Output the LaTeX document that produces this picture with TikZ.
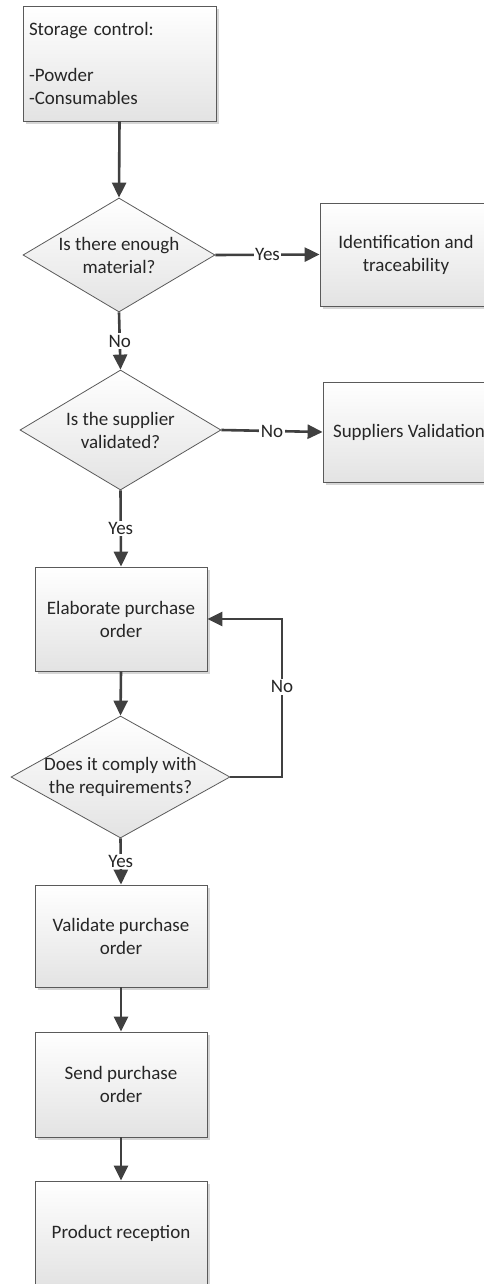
\documentclass[tikz,border=0pt]{standalone}
\usepackage{fontspec}
\setmainfont{Carlito}
\usetikzlibrary{arrows.meta, shapes.geometric, shadows}

\definecolor{linegray}{HTML}{5A5A5A}
\definecolor{arrowgray}{HTML}{404040}
\definecolor{textgray}{HTML}{262626}

\begin{document}
\begin{tikzpicture}[
    x=1pt, y=-1pt,
    >={Triangle[length=15pt, width=14pt]},
    font=\fontsize{19}{23}\selectfont,
    process/.style={draw=linegray, line width=0.8pt, top color=white, bottom color=black!11,
        drop shadow={shadow xshift=3pt, shadow yshift=-3pt, fill=black!16, opacity=1},
        minimum width=172pt, text=textgray, align=center, inner sep=0pt},
    decision/.style={diamond, draw=linegray, line width=0.8pt, top color=white,
        bottom color=black!11, inner sep=0pt},
    qtext/.style={text=textgray, align=center, inner sep=0pt},
    flow/.style={->, line width=2.6pt, draw=arrowgray},
    answer/.style={fill=white, text=textgray, inner sep=1.5pt}
]

% Page frame (pixel grid, y grows downwards)
\useasboundingbox (0,0) rectangle (484,1284);

% Storage box
\node[process, minimum width=193pt, minimum height=115pt, text width=181pt,
    align=left] (storage) at (119.5,63.5) {Storage control:\\[23pt]-Powder\\-Consumables};

% First question
\node[decision, minimum width=192pt, minimum height=114pt] (enough) at (119,255) {};
\node[qtext] (enoughtxt) at (enough) {Is there enough\\material?};
\node[process, minimum height=103pt] (ident) at (406,254.5) {Identification and\\traceability};

% Second question
\node[decision, minimum width=201pt, minimum height=120pt] (supplier) at (120.5,430) {};
\node[qtext] (suppliertxt) at (supplier) {Is the supplier\\validated?};
\node[process, minimum height=100pt] (supval) at (409,432) {Suppliers Validation};

% Purchase order loop
\node[process, minimum height=104pt] (elab) at (121,619) {Elaborate purchase\\order};
\node[decision, minimum width=219pt, minimum height=122pt] (comply) at (120.5,777) {};
\node[qtext] (complytxt) at (comply) {Does it comply with\\the requirements?};
\coordinate (loop) at (282,777);

% Last steps
\node[process, minimum height=102pt] (validate) at (121,936) {Validate purchase\\order};
\node[process, minimum height=105pt] (send) at (121,1084.5) {Send purchase\\order};
\node[process, minimum height=104pt] (product) at (121,1233) {Product reception};

% Connectors
\draw[flow] (storage.south) -- (enough.north);
\draw[flow] (enough.east) -- node[answer] {Yes} (ident.west);
\draw[flow] (enough.south) -- node[answer] {No} (supplier.north);
\draw[flow] (supplier.east) -- node[answer] {No} (supval.west);
\draw[flow] (supplier.south) -- node[answer] {Yes} (elab.north);
\draw[flow] (elab.south) -- (comply.north);
\draw[flow] (comply.east) -- (loop) -- node[answer, pos=0.57] {No} (loop |- elab.east) -- (elab.east);
\draw[flow] (comply.south) -- node[answer] {Yes} (validate.north);
\draw[flow] (validate.south) -- (send.north);
\draw[flow] (send.south) -- (product.north);

\end{tikzpicture}
\end{document}
